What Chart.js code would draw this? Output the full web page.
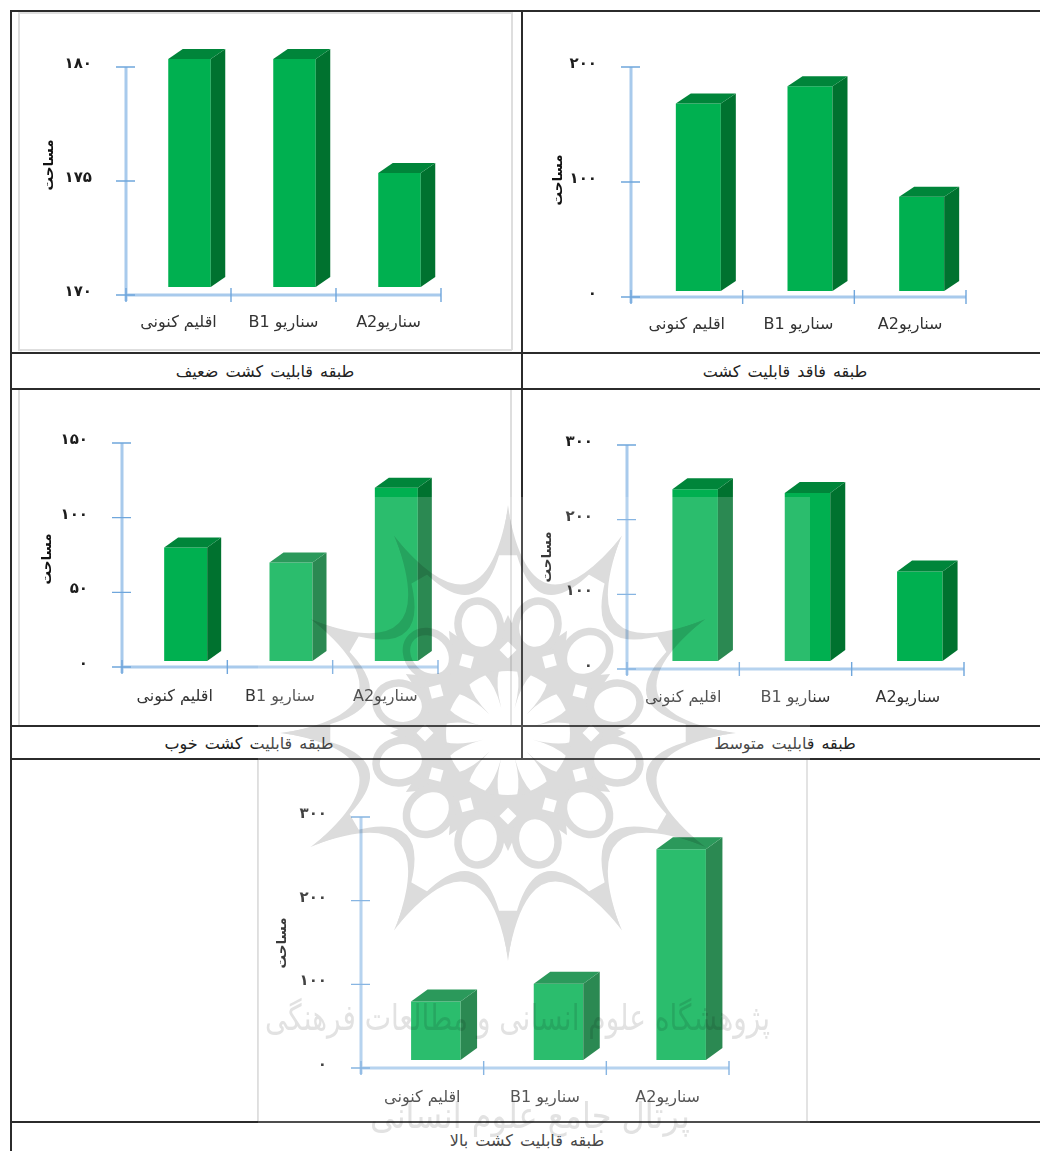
<!DOCTYPE html>
<html lang="fa">
<head>
<meta charset="utf-8">
<script src="https://cdn.jsdelivr.net/npm/chart.js@4"></script>
<style>
html,body{margin:0;padding:0;background:#fff;overflow:hidden}
#page{position:relative;width:1040px;height:1151px;overflow:hidden;background:#fff;filter:blur(.45px);font-family:"DejaVu Sans",sans-serif}
canvas{position:absolute;display:block}
.line{position:absolute;background:#2b2b2b}
.frame{position:absolute;background:#dedede}
.cap{position:absolute;transform:translate(-50%,-50%);font-size:16px;word-spacing:2px;color:#222;white-space:nowrap;direction:rtl}
#haze{position:absolute;left:258px;top:497px;width:552px;height:654px;background:rgba(255,255,255,.17)}
#mark{position:absolute;left:0;top:0;mix-blend-mode:multiply}
</style>
</head>
<body>
<div id="page"></div>
<script>
const categories = ['اقلیم کنونی', 'سناریو B1', 'سناریوA2'];
const axisLabel = 'مساحت';
const weakValues = [180, 180, 175];
const unsuitableValues = [163, 178, 82];
const goodValues = [76, 66, 116];
const mediumValues = [230, 225, 120];
const highValues = [70, 91, 252];
const weakTicks = [170, 180, 5];
const unsuitableTicks = [0, 200, 100];
const goodTicks = [0, 150, 50];
const mediumTicks = [0, 300, 100];
const highTicks = [0, 300, 100];
const captions = ['طبقه قابلیت کشت ضعیف', 'طبقه فاقد قابلیت کشت', 'طبقه قابلیت کشت خوب', 'طبقه قابلیت متوسط', 'طبقه قابلیت کشت بالا'];
const watermarkLines = ['پژوهشگاه علوم انسانی و مطالعات فرهنگی', 'پرتال جامع علوم انسانی'];

const page = document.getElementById('page');
const FONT = '"DejaVu Sans", sans-serif';

function rect(cls, l, t, w, h) {
  const d = document.createElement('div');
  d.className = cls;
  d.style.cssText = `left:${l}px;top:${t}px;width:${w}px;height:${h}px`;
  page.appendChild(d);
}
// inner picture frames
[[18,12,1.5,338],[511,12,1.5,338],[18,12,494,1.5],[18,349,494,1.5],
 [18,390,1.5,336],[510,390,1.5,336],[257,760,1.5,362],[806,760,1.5,362]].forEach(r => rect('frame', ...r));

const perDigit = n => String(n).replace(/\d/g, d => '۰۱۲۳۴۵۶۷۸۹'[d]);

const bars3d = {
  id: 'bars3d',
  beforeDatasetsDraw(c, a, o) { c.ctx.save(); c.ctx.translate(o.dx, o.dy); },
  afterDatasetsDraw(c, a, o) {
    const ctx = c.ctx;
    c.getDatasetMeta(0).data.forEach(el => {
      const r = el.x + el.width / 2, l = el.x - el.width / 2, t = el.y, b = el.base;
      ctx.fillStyle = o.side;
      ctx.beginPath();
      ctx.moveTo(r, t); ctx.lineTo(r + o.ox, t - o.oy); ctx.lineTo(r + o.ox, b - o.oy); ctx.lineTo(r, b);
      ctx.closePath(); ctx.fill();
      ctx.fillStyle = o.top;
      ctx.beginPath();
      ctx.moveTo(l, t); ctx.lineTo(l + o.ox, t - o.oy); ctx.lineTo(r + o.ox, t - o.oy); ctx.lineTo(r, t);
      ctx.closePath(); ctx.fill();
    });
    ctx.restore();
  }
};
const axesCross = {
  id: 'axesCross',
  afterDraw(c) {
    const ctx = c.ctx, x = c.scales.x, y = c.scales.y;
    const top = y.getPixelForValue(y.max), bot = y.getPixelForValue(y.min);
    const n = x.ticks.length, cw = (x.right - x.left) / n;
    ctx.save();
    ctx.strokeStyle = '#a8caec'; ctx.lineWidth = 3;
    ctx.beginPath(); ctx.moveTo(x.left, top); ctx.lineTo(x.left, bot + 6); ctx.moveTo(x.left, bot); ctx.lineTo(x.right, bot); ctx.stroke();
    ctx.strokeStyle = '#6fa6dc'; ctx.lineWidth = 1.4;
    ctx.beginPath();
    y.ticks.forEach(t => { const p = y.getPixelForValue(t.value); ctx.moveTo(x.left - 10, p); ctx.lineTo(x.left + 9, p); });
    for (let i = 0; i <= n; i++) { const p = x.left + i * cw; ctx.moveTo(p, bot - 7); ctx.lineTo(p, bot + 7); }
    ctx.stroke();
    ctx.restore();
  }
};
const titleAt = {
  id: 'titleAt',
  afterLayout(c, a, o) {
    const s = c.scales.y;
    if (s._moved) return;
    s._moved = true;
    const orig = s.drawTitle;
    s.drawTitle = function () {
      const lh = 16;
      c.ctx.save();
      c.ctx.translate(o.x - (s.left + lh / 2), o.y - (s.top + s.bottom) / 2);
      orig.call(s);
      c.ctx.restore();
    };
  }
};

function makeChart(values, range, box, plot, front, off, depth, title, gap) {
  const cv = document.createElement('canvas');
  cv.width = box[2]; cv.height = box[3];
  cv.setAttribute('dir', 'rtl');
  cv.style.cssText = `left:${box[0]}px;top:${box[1]}px;width:${box[2]}px;height:${box[3]}px`;
  page.appendChild(cv);
  const catW = (plot[2] - plot[0]) / categories.length;
  new Chart(cv, {
    type: 'bar',
    data: { labels: categories, datasets: [{
      data: values, base: range[0], backgroundColor: '#00b050', borderWidth: 0,
      categoryPercentage: 1, barPercentage: front / catW, clip: false }] },
    plugins: [bars3d, axesCross, titleAt],
    options: {
      responsive: false, animation: false, events: [],
      layout: { padding: { left: 0, bottom: 0, top: plot[1] - box[1], right: box[0] + box[2] - plot[2] } },
      plugins: {
        legend: { display: false }, tooltip: { enabled: false }, title: { display: false },
        bars3d: { dx: off[0], dy: off[1], ox: depth[0], oy: depth[1], side: '#00722f', top: '#00853a' },
        titleAt: { x: title[0] - box[0], y: title[1] - box[1] }
      },
      scales: {
        x: {
          type: 'category', offset: true,
          grid: { display: false, drawTicks: false }, border: { display: false },
          afterFit: s => { s.height = box[1] + box[3] - plot[3]; },
          ticks: { color: '#333', font: { family: FONT, size: 16 }, padding: gap, maxRotation: 0, autoSkip: false }
        },
        y: {
          min: range[0], max: range[1],
          grid: { display: false, drawTicks: false }, border: { display: false },
          afterFit: s => { s.width = plot[0] - box[0]; },
          afterBuildTicks: s => { s.ticks = []; for (let v = range[0]; v <= range[1]; v += range[2]) s.ticks.push({ value: v }); },
          ticks: { color: '#1c1c1c', font: { family: FONT, size: 15, weight: 'bold' }, padding: 34, labelOffset: -3, callback: v => perDigit(v) },
          title: { display: true, text: axisLabel, color: '#111', padding: 0, font: { family: FONT, size: 13.5, weight: 'bold', lineHeight: 1.2 } }
        }
      }
    }
  });
}

makeChart(weakValues,       weakTicks,       [13, 13, 506, 338],  [126, 67, 441, 295],   42.5, [11, -8],   [14.5, 10], [49, 165], 18);
makeChart(unsuitableValues, unsuitableTicks, [524, 13, 516, 338], [631, 67, 966, 297],   45,   [11.5, -6], [15, 10],   [558, 180], 18);
makeChart(goodValues,       goodTicks,       [13, 391, 506, 334], [122, 443, 438, 667],  43,   [11, -6],   [14, 10],   [47, 559], 20);
makeChart(mediumValues,     mediumTicks,     [524, 391, 516, 334],[627, 445, 964, 669],  45.5, [12, -8],   [15, 11],   [547, 557], 19);
makeChart(highValues,       highTicks,       [259, 761, 546, 360],[361, 817, 729, 1068], 49.5, [13.5, -8], [16.5, 12], [282, 943], 20);

// table rules
[[10,10,2,1141],[10,10,1030,2],[521,10,2,749],[10,352,1030,2],[10,388,1030,2],[10,725,1030,2],[10,758,1030,2],[10,1121,1030,2]].forEach(r => rect('line', ...r));

[[265,371],[785,371],[249,743],[785,743],[527,1140]].forEach((p, i) => {
  const d = document.createElement('div');
  d.className = 'cap';
  d.style.left = p[0] + 'px'; d.style.top = p[1] + 'px';
  d.textContent = captions[i];
  page.appendChild(d);
});

// publisher's watermark, lying over the whole table
const haze = document.createElement('div'); haze.id = 'haze'; page.appendChild(haze);
const GRAY = '#dcdcdc', cx = 508, cy = 733;
const pol = (r, deg) => { const a = (deg - 90) * Math.PI / 180; return [(cx + r * Math.cos(a)).toFixed(1), (cy + r * Math.sin(a)).toFixed(1)]; };
let svg = '';
for (let k = 0; k < 12; k++) {
  const a = k * 30, m = a + 15;
  const t1 = pol(225, a), t2 = pol(225, a + 30), c1 = pol(92, m), c2 = pol(70, m);
  svg += `<path d="M${t1} Q${c1} ${t2} Q${c2} ${t1}Z" fill="${GRAY}"/>`;
  svg += `<path d="M${pol(228, a)} Q${pol(200, a - 1)} ${pol(178, a - 3.5)} L${pol(178, a + 3.5)} Q${pol(200, a + 1)} ${pol(228, a)}Z" fill="${GRAY}"/>`;
  svg += `<path d="M${pol(92, a - 8)} L${pol(118, a)} L${pol(92, a + 8)}Z" fill="${GRAY}"/>`;
}
svg += `<circle cx="${cx}" cy="${cy}" r="78" fill="none" stroke="${GRAY}" stroke-width="34"/>`;
for (let k = 0; k < 12; k++) {
  const p = pol(111, k * 30 + 15);
  svg += `<ellipse cx="${p[0]}" cy="${p[1]}" rx="21" ry="25" fill="#fff" stroke="${GRAY}" stroke-width="7.5" transform="rotate(${k * 30 + 15} ${p[0]} ${p[1]})"/>`;
  const q = pol(83, k * 30);
  svg += `<rect x="${q[0] - 6}" y="${q[1] - 6}" width="12" height="12" fill="#fff" transform="rotate(${k * 30 + 45} ${q[0]} ${q[1]})"/>`;
}
svg += `<circle cx="${cx}" cy="${cy}" r="62" fill="#fff"/>`;
for (let k = 0; k < 12; k++) {
  const a = k * 30 + 15, b = pol(64, a - 7), d = pol(64, a + 7), e = pol(26, a);
  svg += `<path d="M${b} Q${pol(50, a)} ${e} Q${pol(50, a)} ${d}Z" fill="${GRAY}"/>`;
}
svg += `<text x="770" y="1030" text-anchor="start" direction="rtl" textLength="505" lengthAdjust="spacingAndGlyphs" font-family="DejaVu Sans" font-size="36" fill="#e2e2e2">${watermarkLines[0]}</text>`;
svg += `<text x="690" y="1128" text-anchor="start" direction="rtl" textLength="320" lengthAdjust="spacingAndGlyphs" font-family="DejaVu Sans" font-size="36" fill="#e2e2e2">${watermarkLines[1]}</text>`;
page.insertAdjacentHTML('beforeend', `<svg id="mark" width="1040" height="1151" viewBox="0 0 1040 1151">${svg}</svg>`);
</script>
</body>
</html>
